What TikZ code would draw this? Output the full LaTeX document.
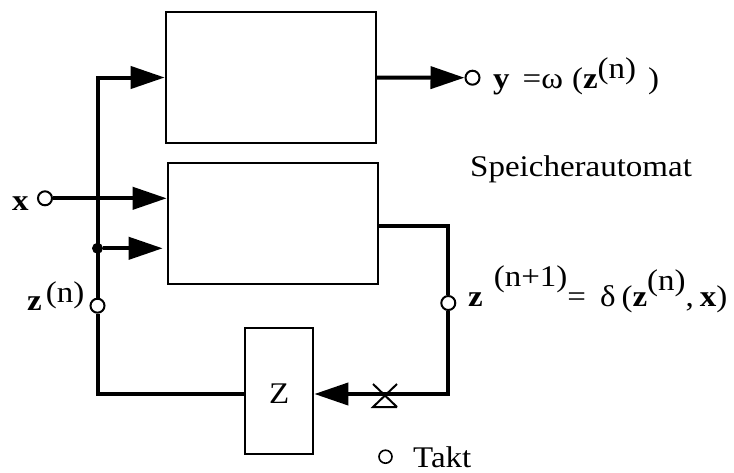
\documentclass[tikz,border=0pt]{standalone}
\usepackage{fontspec}
\setmainfont{Liberation Serif}[FakeStretch=1.1]
\usetikzlibrary{arrows.meta}
\begin{document}
\begin{tikzpicture}[x=1pt,y=-1pt,
  lbl/.style={font=\fontsize{30}{36}\selectfont, inner sep=0pt, anchor=base west},
  box/.style={draw, line width=2pt, inner sep=0pt},
  bus/.style={line width=4pt, line join=miter},
  arr/.style={-{Triangle[length=34pt 0, width=22pt 0]}},
  port/.style={circle, draw, fill=white, line width=2pt, minimum size=14pt, inner sep=0pt},
  smallport/.style={circle, draw, line width=1.6pt, minimum size=13pt, inner sep=0pt},
  dotnode/.style={circle, fill=black, minimum size=11pt, inner sep=0pt},
  clockmark/.style={line width=2pt}]
\useasboundingbox (0,0) rectangle (734,472);
% boxes
\node[box, minimum width=210pt, minimum height=131.6pt] (top) at (270.7,77.5) {};
\node[box, minimum width=210pt, minimum height=121.6pt] (box2) at (272.7,223.5) {};
\node[box, minimum width=68.3pt, minimum height=126.3pt] (zbox) at (279.2,390.9) {};
\node[font=\fontsize{30}{36}\selectfont, inner sep=0pt] (zlab) at (279.2,394) {Z};
% ports and junctions
\node[port] (xin) at (45,198.3) {};
\node[dotnode] (br) at (97.5,248.3) {};
\node[port] (zn) at (97.5,305.7) {};
\node[port] (yout) at (472.5,77.7) {};
\node[port] (zn1) at (448.3,303) {};
\node[smallport] (takt) at (385.5,456.7) {};
\coordinate (rTop) at (448.3,226);
\coordinate (zy) at (0,394);
% connectors
\draw[bus, arr] (zn) |- (top.west);
\draw[bus] (zn) |- (zbox.west |- zy);
\draw[bus, arr] (xin) -- (box2.west |- xin);
\draw[bus, arr] (br) -- ([xshift=-4pt]box2.west |- br);
\draw[bus, arr] (top.east) -- (yout);
\draw[bus] (box2.east |- rTop) -| (zn1);
\draw[bus, arr] (zn1) |- (zbox.east |- zy);
% clock mark
\draw[clockmark] (373,384) -- (397,407) (397,384) -- (373,407) -- (397,407);
% labels
\node[lbl] (lx) at (12,210) {\textbf{x}};
\node[lbl] (lzn) at (27,310) {\textbf{z}\hspace{4pt}\raisebox{8pt}{(n)}};
\node[lbl] (ly) at (493,88) {\textbf{y}\hspace{13pt}=ω\hspace{9pt}(\textbf{z}\raisebox{10pt}{(n)}\hspace{12pt})};
\node[lbl] (lzn1) at (468,306.7) {\textbf{z}\hspace{11pt}\raisebox{20pt}{(n+1)}=\hspace{14pt}δ\hspace{6pt}(\textbf{z}\raisebox{16pt}{(n)},\hspace{6pt}\textbf{x})};
\node[lbl] (lsp) at (470,176) {Speicherautomat};
\node[lbl] (ltakt) at (413,467) {Takt};
\end{tikzpicture}
\end{document}
